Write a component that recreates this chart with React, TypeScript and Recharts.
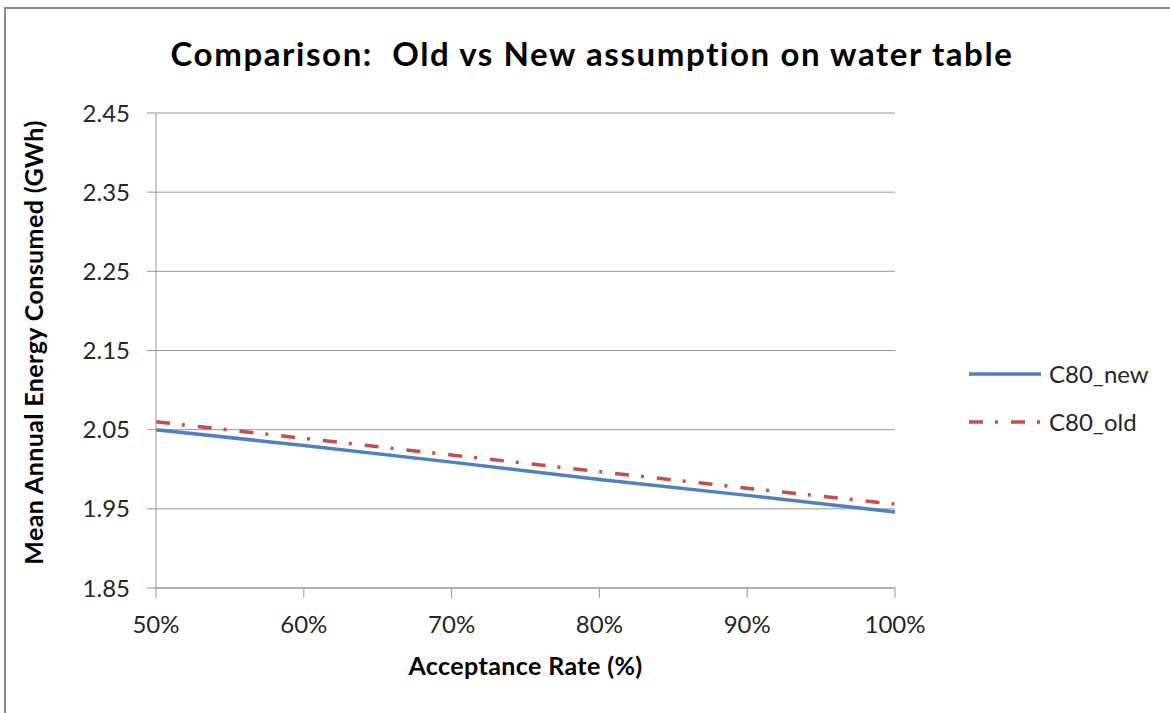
import React from 'react';
import { LineChart, Line, XAxis, YAxis, CartesianGrid, Legend, Label } from 'recharts';

const categories = ['50%', '60%', '70%', '80%', '90%', '100%'];
const c80New = [2.05, 2.03, 2.009, 1.987, 1.967, 1.946];
const c80Old = [2.06, 2.039, 2.018, 1.997, 1.976, 1.956];
const yTicks = [1.85, 1.95, 2.05, 2.15, 2.25, 2.35, 2.45];

const data = categories.map((name, i) => ({ name, C80_new: c80New[i], C80_old: c80Old[i] }));

const FONT = 'Lato, "Open Sans", sans-serif';
const GRID = '#979797';
const TEXT = '#262626';
const BLUE = '#4f81bd';
const RED = '#c0504d';
const OLD_DASH = '14 12 3 13';

const legendItems = [
  { name: 'C80_new', color: BLUE, dash: undefined as string | undefined },
  { name: 'C80_old', color: RED, dash: OLD_DASH },
];

// legend drawn by hand so the icons are long lines like in the original
const renderLegend = () => (
  <div style={{ fontFamily: FONT, fontSize: 24, lineHeight: '24px' }}>
    {legendItems.map((it) => (
      <div key={it.name} style={{ display: 'flex', alignItems: 'center', height: 48 }}>
        <svg width={74} height={10}>
          <line x1={1} y1={5} x2={73} y2={5} stroke={it.color} strokeWidth={3.5} strokeDasharray={it.dash} />
        </svg>
        <span style={{ marginLeft: 7, color: TEXT }}>{it.name}</span>
      </div>
    ))}
  </div>
);

const YLabel = (props: any) => {
  const { viewBox } = props;
  const cx = 33;
  const cy = viewBox.y + viewBox.height / 2 - 8;
  return (
    <text
      x={cx}
      y={cy}
      transform={`rotate(-90 ${cx} ${cy})`}
      textAnchor="middle"
      dominantBaseline="central"
      fontFamily={FONT}
      fontWeight="bold"
      fontSize={25}
      letterSpacing={0.4}
      fill="#000"
    >
      Mean Annual Energy Consumed (GWh)
    </text>
  );
};

export default function App() {
  return (
    <div style={{ position: 'absolute', left: 0, top: 0, width: 1170, height: 713, background: '#fff' }}>
      <div
        style={{
          position: 'absolute',
          left: 4,
          top: 7,
          width: 1166,
          height: 706,
          borderTop: '2px solid #8a8a8a',
          borderLeft: '2px solid #8a8a8a',
        }}
      />
      <div
        style={{
          position: 'absolute',
          left: 0,
          top: 33,
          width: 1184,
          textAlign: 'center',
          fontFamily: FONT,
          fontWeight: 'bold',
          fontSize: 33,
          letterSpacing: 1.6,
          color: '#000',
        }}
      >
        Comparison:&nbsp; Old vs New assumption on water table
      </div>
      {/* the legend box (200 wide) is reserved on the right by recharts, so margin right + 200 = 275 */}
      <LineChart
        width={1170}
        height={713}
        data={data}
        margin={{ top: 113, right: 75, bottom: 0, left: 0 }}
        style={{ position: 'absolute', left: 0, top: 0 }}
      >
        <CartesianGrid vertical={false} stroke={GRID} strokeWidth={1} />
        <XAxis
          dataKey="name"
          padding={{ left: 0, right: 0 }}
          stroke={GRID}
          tickSize={10}
          tickMargin={18}
          tick={{ fill: TEXT, fontFamily: FONT, fontSize: 24 }}
          height={125}
        >
          <Label
            value="Acceptance Rate (%)"
            position="insideTop"
            offset={69}
            style={{ fill: '#000', fontFamily: FONT, fontWeight: 'bold', fontSize: 25, letterSpacing: 0.4 }}
          />
        </XAxis>
        <YAxis
          width={156}
          domain={[1.85, 2.45]}
          ticks={yTicks}
          interval={0}
          stroke={GRID}
          tickSize={9}
          tickMargin={17}
          tickFormatter={(v: number) => v.toFixed(2)}
          tick={{ fill: TEXT, fontFamily: FONT, fontSize: 24 }}
        >
          <Label content={YLabel} />
        </YAxis>
        <Legend
          layout="horizontal"
          verticalAlign="middle"
          align="right"
          content={renderLegend}
          wrapperStyle={{ left: 968, top: 350, width: 200 }}
        />
        <Line
          type="linear"
          dataKey="C80_new"
          stroke={BLUE}
          strokeWidth={3.5}
          dot={false}
          isAnimationActive={false}
        />
        <Line
          type="linear"
          dataKey="C80_old"
          stroke={RED}
          strokeWidth={3.5}
          strokeDasharray={OLD_DASH}
          dot={false}
          isAnimationActive={false}
        />
      </LineChart>
    </div>
  );
}
